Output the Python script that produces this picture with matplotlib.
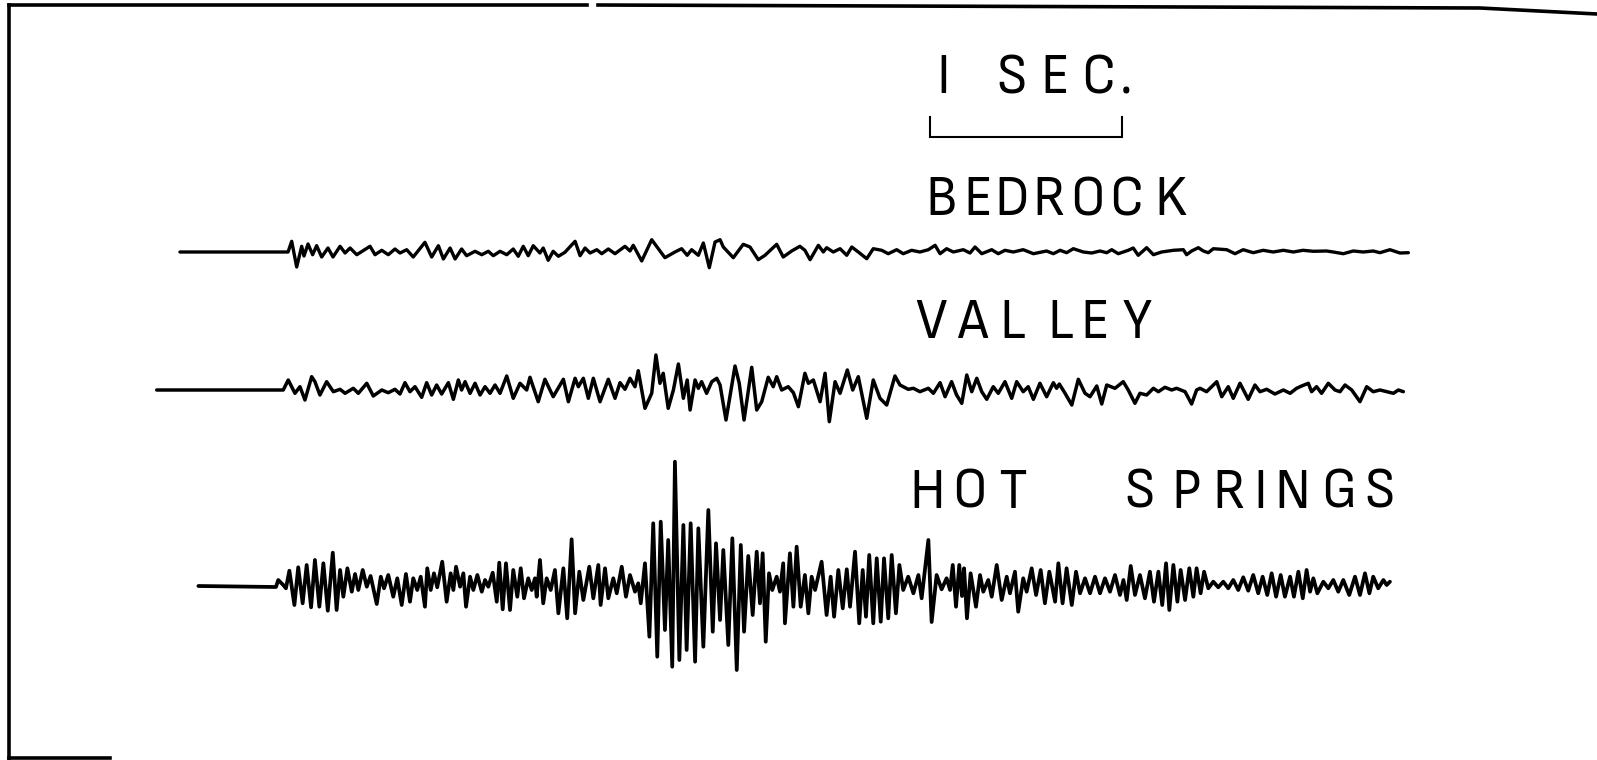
import numpy as np
import matplotlib
matplotlib.use("Agg")
import matplotlib.pyplot as plt
import matplotlib.transforms as mtransforms
from matplotlib.lines import Line2D

# turning points of each record: time (s) and trace deflection (upward positive)
BEDROCK_T = [
    0.156, 0.719, 0.738, 0.764, 0.790, 0.802, 0.823, 0.847, 0.868, 0.894,
    0.927, 0.953, 0.990, 1.016, 1.042, 1.077, 1.146, 1.172, 1.207, 1.241,
    1.276, 1.302, 1.337, 1.371, 1.432, 1.467, 1.502, 1.528, 1.563, 1.589,
    1.623, 1.649, 1.693, 1.728, 1.762, 1.788, 1.823, 1.858, 1.892, 1.918,
    1.944, 1.970, 1.996, 2.031, 2.048, 2.074, 2.100, 2.127, 2.161, 2.214,
    2.240, 2.266, 2.292, 2.327, 2.353, 2.387, 2.422, 2.474, 2.500, 2.517,
    2.561, 2.613, 2.682, 2.734, 2.769, 2.798, 2.821, 2.856, 2.882, 2.913,
    2.943, 2.969, 2.986, 3.038, 3.090, 3.125, 3.168, 3.203, 3.264, 3.298,
    3.342, 3.385, 3.411, 3.438, 3.481, 3.507, 3.524, 3.559, 3.594, 3.629,
    3.655, 3.689, 3.733, 3.767, 3.811, 3.845, 3.889, 3.923, 3.967, 4.010,
    4.054, 4.089, 4.115, 4.149, 4.184, 4.236, 4.271, 4.297, 4.332, 4.384,
    4.418, 4.453, 4.496, 4.548, 4.601, 4.670, 4.705, 4.740, 4.774, 4.809,
    4.861, 4.905, 4.948, 4.983, 5.009, 5.043, 5.095, 5.121, 5.147, 5.191,
    5.226, 5.269, 5.330, 5.382, 5.399, 5.425, 5.460, 5.486, 5.512, 5.538,
    5.608, 5.651, 5.694, 5.746, 5.798, 5.850, 5.903, 5.955, 6.005, 6.059,
    6.128, 6.163, 6.215, 6.267, 6.319, 6.371, 6.406, 6.458, 6.510, 6.554,
]
BEDROCK_A = [
    0, 0, 10.7, -15, 5.7, -4, 8, -2.7, 6.3, -5,
    4, -5, 5.7, -1, 4, -2.7, 5.7, -2.7, 1.7, -2.7,
    3, -1, 2.3, -5, 9.7, -5, 6.3, -7, 4, -7,
    3, -3.7, 0.7, -2.7, 0.7, -3.7, 0.7, -2.7, 3, -4.3,
    5.7, -3.7, 6.3, -1, 4, -8.3, 0.7, -4.3, -0.3, 10.7,
    -3.7, 4, -1, 2.3, -1.7, 3, -1.7, 5.7, 1, 6.7,
    -9, 12.3, -5.7, 0, 3.3, -3.3, 2.3, -3.3, 9, -15.7,
    10, 12.3, 5, -5.7, 7.7, 5, -7.7, -3.3, 7.7, -5,
    1, 5.7, 1.7, -7.7, 6.7, 0, 4.3, 0, 3.3, -3.3,
    5, 0, -6.7, 3.3, 1.7, -1.7, 2.3, -1.7, 1.7, 0,
    2.3, 6.7, -1.7, 3.3, 0, 2.3, -1, 5, -1.7, 2.3,
    -1.7, 1.7, 0, 2.3, -1.7, 1, -1.7, 1.7, -0.7, 3.3,
    0, -1, 1, -0.7, 2.3, -1.7, 1.7, 4, -3.3, 4.3,
    -2.7, 0, 1.7, 2.3, -2.7, 1, 4.3, 1, -0.7, 3.3,
    2.3, -1.7, 2.3, -0.7, 1.7, 0, 1.7, 0, 1.7, 0.7,
    1, 0, -1.7, 1, 0, 1, -0.7, 2.3, -1, -0.7,
]

VALLEY_T = [
    0.035, 0.694, 0.720, 0.755, 0.781, 0.807, 0.842, 0.859, 0.885, 0.920,
    0.955, 0.990, 1.016, 1.059, 1.085, 1.129, 1.163, 1.207, 1.241, 1.276,
    1.302, 1.328, 1.354, 1.380, 1.415, 1.441, 1.467, 1.493, 1.519, 1.554,
    1.580, 1.606, 1.623, 1.641, 1.667, 1.693, 1.719, 1.745, 1.771, 1.797,
    1.823, 1.858, 1.892, 1.927, 1.962, 1.979, 2.022, 2.057, 2.100, 2.153,
    2.179, 2.214, 2.231, 2.257, 2.283, 2.309, 2.344, 2.387, 2.422, 2.448,
    2.474, 2.500, 2.526, 2.543, 2.578, 2.613, 2.635, 2.656, 2.673, 2.699,
    2.726, 2.752, 2.778, 2.798, 2.813, 2.839, 2.856, 2.873, 2.899, 2.926,
    2.952, 2.969, 3.000, 3.047, 3.069, 3.094, 3.134, 3.160, 3.186, 3.220,
    3.246, 3.264, 3.290, 3.324, 3.351, 3.377, 3.411, 3.429, 3.455, 3.490,
    3.516, 3.538, 3.568, 3.594, 3.632, 3.660, 3.689, 3.733, 3.767, 3.802,
    3.837, 3.880, 3.906, 3.949, 3.976, 4.010, 4.054, 4.080, 4.115, 4.141,
    4.175, 4.201, 4.228, 4.254, 4.280, 4.306, 4.332, 4.358, 4.392, 4.418,
    4.453, 4.488, 4.514, 4.548, 4.574, 4.601, 4.635, 4.670, 4.705, 4.722,
    4.736, 4.766, 4.801, 4.835, 4.870, 4.896, 4.931, 4.957, 4.983, 5.026,
    5.069, 5.095, 5.130, 5.156, 5.191, 5.226, 5.252, 5.286, 5.321, 5.347,
    5.391, 5.425, 5.451, 5.469, 5.503, 5.538, 5.556, 5.582, 5.616, 5.642,
    5.677, 5.720, 5.755, 5.781, 5.816, 5.859, 5.903, 5.938, 5.972, 5.998,
    6.033, 6.050, 6.076, 6.102, 6.137, 6.172, 6.198, 6.224, 6.259, 6.302,
    6.337, 6.371, 6.406, 6.441, 6.476, 6.502, 6.528,
]
VALLEY_A = [
    0, 0, 10, -3.3, 3.3, -10, 13.3, 8.3, -5, 8.3,
    -1.7, 0.7, -3.3, 1.7, -3.3, 6.7, -6, 0, -2.7, 0.7,
    -4, 7.3, -1.7, 3.3, -7.3, 7.3, -5, 5, -4, 7.3,
    -9.3, 10, 0, 8.3, -3.3, 6.7, -5, 3.3, -3.3, 5,
    -3.3, 14, -8.3, 6.7, 0, 12.7, -11.7, 10.7, -6.7, 10.7,
    -11.7, 11.7, 3.3, 11.7, -8.3, 11.7, -11.7, 10.7, -8.3, 7.3,
    0.7, 11.7, 3.3, 19.3, -18.3, -3.3, 35, 6.7, 16.7, -18.3,
    0, 26, -8.3, 10, -20, 10, 1.7, 8.3, -3.3, 8.3,
    11.7, 5, -30, 24, 6.7, -30, 22.7, -20, -11.7, 12.7,
    3.3, 13.3, 0, 3.3, -2.7, -16.7, 16.7, 6.7, 10, -11.7,
    16.7, -31.7, 8.3, -3.3, 20, 0, 13.3, -28.3, 10, -8.3,
    -15, 14, 5, 0.7, 1.7, -1.7, 1.7, -3.3, 7.3, -6.7,
    8.3, -5, -13.3, 15, -1.7, 11.7, -1.7, -9.3, 3.3, -3.3,
    8.3, -8.3, 8.3, -1.7, 3.3, -9.3, 6.7, -6.7, 7.3, 1.7,
    6, -3.3, -15, 10.7, -3.3, -6.7, 4, -14, 5, 1.7,
    8.3, 0, -13.3, -3.3, -5, 1.7, -1.7, 2.7, 0, 1.7,
    -1.7, -14, 0, 1.7, -1.7, 5, 8.3, -6.7, 3.3, -8.3,
    6.7, -9.3, 5, -1.7, 0.7, -4, 0, -3.3, 1.7, 4,
    6.7, -1.7, 3.3, -3.3, 6.7, 0, -1.7, 5, 0, -11.7,
    3.3, -1.7, 0, -1.7, -3.3, 0, -1.7,
]

HOT_T = [
    0.252, 0.656, 0.668, 0.694, 0.708, 0.726, 0.752, 0.772, 0.795, 0.816,
    0.839, 0.859, 0.882, 0.903, 0.926, 0.952, 0.972, 0.990, 1.007, 1.028,
    1.051, 1.068, 1.085, 1.108, 1.129, 1.149, 1.181, 1.202, 1.219, 1.241,
    1.267, 1.288, 1.311, 1.333, 1.354, 1.371, 1.392, 1.410, 1.432, 1.444,
    1.462, 1.479, 1.496, 1.522, 1.545, 1.566, 1.580, 1.594, 1.615, 1.632,
    1.646, 1.667, 1.684, 1.705, 1.728, 1.745, 1.762, 1.785, 1.806, 1.819,
    1.837, 1.854, 1.875, 1.892, 1.913, 1.931, 1.948, 1.970, 1.988, 2.005,
    2.014, 2.031, 2.048, 2.066, 2.087, 2.109, 2.127, 2.153, 2.173, 2.196,
    2.214, 2.236, 2.257, 2.288, 2.309, 2.335, 2.347, 2.370, 2.387, 2.413,
    2.431, 2.457, 2.479, 2.500, 2.526, 2.543, 2.556, 2.578, 2.601, 2.621,
    2.642, 2.660, 2.682, 2.699, 2.720, 2.734, 2.757, 2.778, 2.795, 2.816,
    2.839, 2.856, 2.882, 2.908, 2.931, 2.948, 2.969, 2.986, 3.012, 3.033,
    3.056, 3.077, 3.094, 3.116, 3.139, 3.160, 3.177, 3.191, 3.207, 3.224,
    3.241, 3.264, 3.281, 3.298, 3.307, 3.333, 3.351, 3.368, 3.389, 3.411,
    3.429, 3.446, 3.464, 3.498, 3.524, 3.545, 3.563, 3.585, 3.608, 3.629,
    3.646, 3.672, 3.694, 3.712, 3.729, 3.746, 3.767, 3.785, 3.806, 3.823,
    3.845, 3.863, 3.885, 3.903, 3.923, 3.949, 3.976, 4.002, 4.019, 4.054,
    4.071, 4.097, 4.123, 4.149, 4.167, 4.181, 4.198, 4.215, 4.229, 4.240,
    4.255, 4.274, 4.302, 4.323, 4.340, 4.366, 4.384, 4.410, 4.436, 4.462,
    4.479, 4.505, 4.522, 4.548, 4.566, 4.592, 4.615, 4.639, 4.661, 4.684,
    4.714, 4.731, 4.753, 4.774, 4.801, 4.823, 4.844, 4.870, 4.896, 4.922,
    4.948, 4.974, 5.000, 5.026, 5.052, 5.070, 5.087, 5.108, 5.130, 5.156,
    5.182, 5.208, 5.229, 5.252, 5.272, 5.292, 5.309, 5.330, 5.351, 5.368,
    5.391, 5.413, 5.434, 5.451, 5.472, 5.490, 5.512, 5.538, 5.564, 5.590,
    5.616, 5.642, 5.668, 5.694, 5.720, 5.746, 5.772, 5.795, 5.819, 5.842,
    5.865, 5.889, 5.911, 5.938, 5.958, 5.981, 6.004, 6.024, 6.042, 6.059,
    6.080, 6.111, 6.137, 6.163, 6.189, 6.215, 6.246, 6.276, 6.302, 6.328,
    6.351, 6.371, 6.397, 6.424, 6.441, 6.458,
]
HOT_A = [
    0, -1, 6, 1, -2.3, 15.3, -19, 18.7, -17.3, 21,
    -21.3, 26, -20.7, 22.7, -24.7, 33.3, -24, 16, -10.7, 17.7,
    -5.7, 12, -4, 16, -0.7, 10, -18, 9.3, -2.3, 11,
    -10.7, 7.7, -19, 12, -15.7, 7.7, -4, 9.3, -20.7, 17.7,
    -4, 12.7, -1.3, 24.3, -15.7, 12.7, -4, 19.3, -0.7, 12.7,
    -20.7, 9.3, -4, 11, -5.7, 6, -0.7, 13.3, -15.7, 23.3,
    -23.3, 22.7, -24, 16, -10.7, 17.7, -12.3, 7.7, -4, 7.7,
    -10.7, 26, -17.3, 7.7, -4, 16, -27.3, 17.7, -32.3, 46.7,
    -27.3, 14.3, -14, 19.3, -12.3, 21, -19, 17.7, -12.3, 7.7,
    -7.3, 19.3, -10.7, 11, -5.7, 2.7, -17.3, 22.7, -50.7, 62.7,
    -70.7, 64.3, -44, 46, -80.7, 124.3, -74, 61, -64, 62.7,
    -75.7, 57.7, -60.7, 76, -45.7, 42.7, -34, 36, -59, 47.7,
    -84, 41, -45.7, 30, -29, 34.3, -17.3, 32.7, -55.7, 12.7,
    -4, 9.3, -5.7, 22.7, -37.3, 32.7, -20.7, 39.3, -20.7, 11,
    -27.3, 9.3, -4, 24.3, -29, 9.3, -30.7, 16, -22.3, 16.7,
    -20.7, 34.3, -37.3, 16, -30.7, 31, -37.3, 27.7, -35.7, 27.7,
    -32.3, 31, -27.3, 21, -4, 9.3, -7.3, 11, -12.3, 46,
    -36, 11, -3.3, 7.7, -4, 21, -20.7, 21, -10, 17.7,
    -32.3, 12.7, -20.7, 11, -5.7, 6, -10.7, 21, -14, 9.3,
    -7.3, 14.3, -25.7, 7.7, -5.7, 17.7, -9, 16, -17.3, 14.3,
    -15.7, 22.7, -17.3, 17.7, -19, 14.3, -7.3, 7.7, -7.3, 9.3,
    -7.3, 7.7, -5.7, 11, -9, 6, -14, 20, -9, 11,
    -12.3, 14.3, -15.7, 14.3, -19, 22.7, -24, 21, -15.7, 16,
    -14, 17.7, -10.7, 17.7, -7.3, 14.3, -2.3, 4.3, -1.3, 4.3,
    -2.3, 6, -4, 8.7, -4.7, 11, -7.3, 9.3, -9, 12.7,
    -10.7, 11, -10.7, 9.3, -10.7, 14.3, -12.3, 16, -5.7, 7.7,
    -7.3, 4.3, -2.3, 6, -5.7, 6, -9, 9.3, -9, 12.7,
    -7.3, 9.3, -2.3, 6, 1, 4.3,
]

SCALE_SEC = 1.0  # length of the time bar

W, H = 1597, 760
PX_PER_SEC = 192.0
X0 = 150.0  # pixel column of t = 0

fig = plt.figure(figsize=(W / 100, H / 100), dpi=100)
fig.patch.set_facecolor("white")
ax = fig.add_axes([0, 0, 1, 1])
ax.set_xlim(-X0 / PX_PER_SEC, (W - X0) / PX_PER_SEC)
ax.set_ylim(H, 0)
ax.axis("off")

# pixel coordinates, origin top left
PX = mtransforms.Affine2D().scale(1 / W, -1 / H).translate(0, 1) + fig.transFigure

# the three records, each on its own baseline
records = [
    (BEDROCK_T, BEDROCK_A, 252, 2.4),
    (VALLEY_T, VALLEY_A, 390, 2.5),
    (HOT_T, HOT_A, 586, 2.7),
]
for t, a, base, lw in records:
    assert len(t) == len(a)
    ax.plot(t, base - np.asarray(a), color="black", lw=lw,
            solid_joinstyle="round", solid_capstyle="round")

# one second bar
t0 = 4.06
ax.plot([t0, t0, t0 + SCALE_SEC, t0 + SCALE_SEC], [117, 137, 137, 117],
        color="black", lw=1.5, solid_joinstyle="miter")

# frame of the plate
frame = [
    ([9, 9], [5, 759]),
    ([9, 110], [758, 758]),
    ([9, 587], [5, 5]),
    ([598, 1480, 1597], [5, 8, 14]),
]
for xs, ys in frame:
    fig.add_artist(Line2D(xs, ys, transform=PX, color="black", lw=2.6))

FONT = ["Sofia Sans Semi Condensed", "Asap Condensed", "DejaVu Sans"]


def letters(chars, centres, baseline, size=41):
    for ch, xc in zip(chars, centres):
        fig.text(xc / W, 1 - baseline / H, ch, ha="center", va="baseline",
                 fontsize=size, family=FONT, fontweight=300, color="black")


letters("ISEC.", [943.5, 1012, 1055, 1098, 1126], 93)
letters("BEDROCK", [941, 977.5, 1011.5, 1049, 1087.5, 1126.5, 1170], 215)
letters("VALLEY", [931, 972, 1012, 1060, 1095, 1137], 338)
letters("HOTSPRINGS", [927, 969, 1013, 1140, 1186, 1229, 1260, 1292, 1339, 1380], 508)

fig.savefig("out.png", dpi=100, facecolor="white")
